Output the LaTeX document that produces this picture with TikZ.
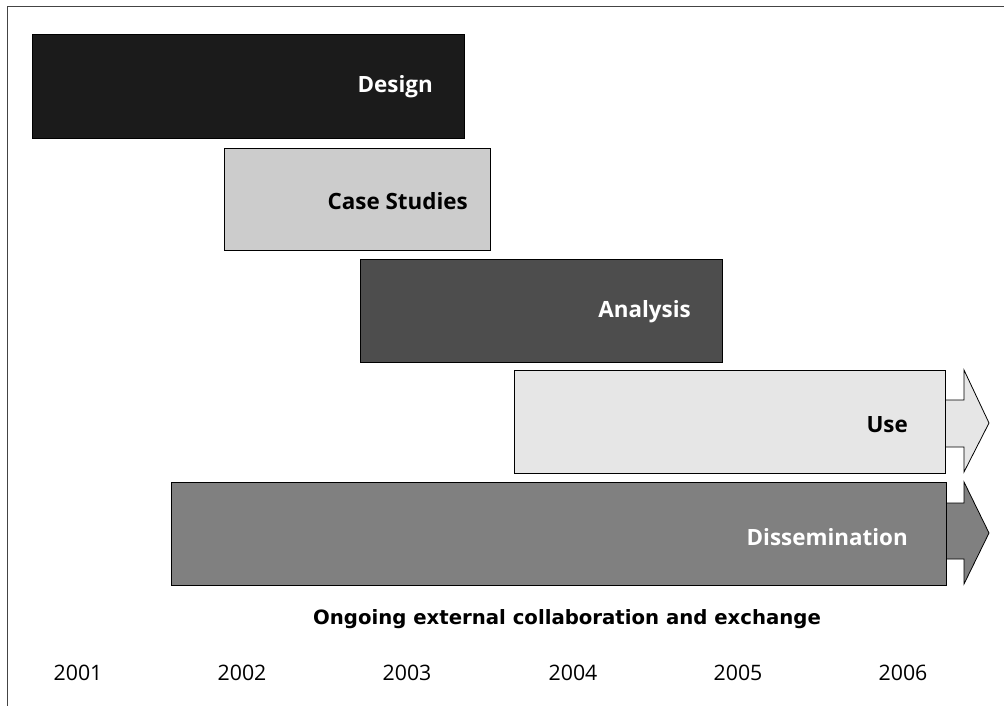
\documentclass[tikz,border=0pt]{standalone}
\usepackage{fontspec}
\setmainfont{Open Sans}
\newfontfamily\titlefont{DejaVu Sans}
\definecolor{cDesign}{HTML}{1B1B1B}
\definecolor{cCase}{HTML}{CCCCCC}
\definecolor{cAnalysis}{HTML}{4D4D4D}
\definecolor{cUse}{HTML}{E6E6E6}
\definecolor{cDiss}{HTML}{808080}
\definecolor{cFrame}{HTML}{444444}
\tikzset{
  phase/.style={draw=black, line width=1.3pt, anchor=north west, inner sep=0pt},
  phaselabel/.style={font=\fontsize{22.4}{26}\selectfont\bfseries, inner sep=0pt},
  arrowshape/.style={draw=black, line width=0.8pt},
  yearlabel/.style={font=\fontsize{21.3}{25}\selectfont, inner sep=0pt},
}
\begin{document}
\begin{tikzpicture}[x=1pt,y=-1pt]
\useasboundingbox (0,0) rectangle (1004,706);
% frame
\draw[cFrame, line width=1.8pt] (7.5,706) -- (7.5,6.5) -- (1004,6.5);
% arrows behind the boxes
\draw[arrowshape, fill=cUse] (930,400) -- (964,400) -- (964,370) -- (989,423) -- (964,472) -- (964,447) -- (930,447) -- cycle;
\draw[arrowshape, fill=cDiss] (930,503) -- (964,503) -- (964,482) -- (989,533) -- (964,584) -- (964,559) -- (930,559) -- cycle;
% phase boxes
\node[phase, fill=cDesign, minimum width=432pt, minimum height=104pt] (design) at (32,34) {};
\node[phase, fill=cCase, minimum width=266pt, minimum height=102pt] (case) at (224,148) {};
\node[phase, fill=cAnalysis, minimum width=362pt, minimum height=103pt] (analysis) at (360,259) {};
\node[phase, fill=cUse, minimum width=431pt, minimum height=103pt] (use) at (514,370) {};
\node[phase, fill=cDiss, minimum width=775pt, minimum height=103pt] (diss) at (171,482) {};
% labels
\node[phaselabel, text=white, anchor=east] (ldesign) at (433,87) {Design};
\node[phaselabel, text=black, anchor=east] (lcase) at (468,201) {Case Studies};
\node[phaselabel, text=white, anchor=east] (lanalysis) at (691,312) {Analysis};
\node[phaselabel, text=black, anchor=east] (luse) at (908,425) {Use};
\node[phaselabel, text=white, anchor=east] (ldiss) at (908,537) {Dissemination};
\node[font=\titlefont\fontsize{19.7}{23}\selectfont\bfseries, inner sep=0pt] (ongoing) at (567,619) {Ongoing external collaboration and exchange};
% years
\node[yearlabel] (y2001) at (78,673) {2001};
\node[yearlabel] (y2002) at (242,673) {2002};
\node[yearlabel] (y2003) at (407,673) {2003};
\node[yearlabel] (y2004) at (573,673) {2004};
\node[yearlabel] (y2005) at (738,673) {2005};
\node[yearlabel] (y2006) at (903,673) {2006};
\end{tikzpicture}
\end{document}
